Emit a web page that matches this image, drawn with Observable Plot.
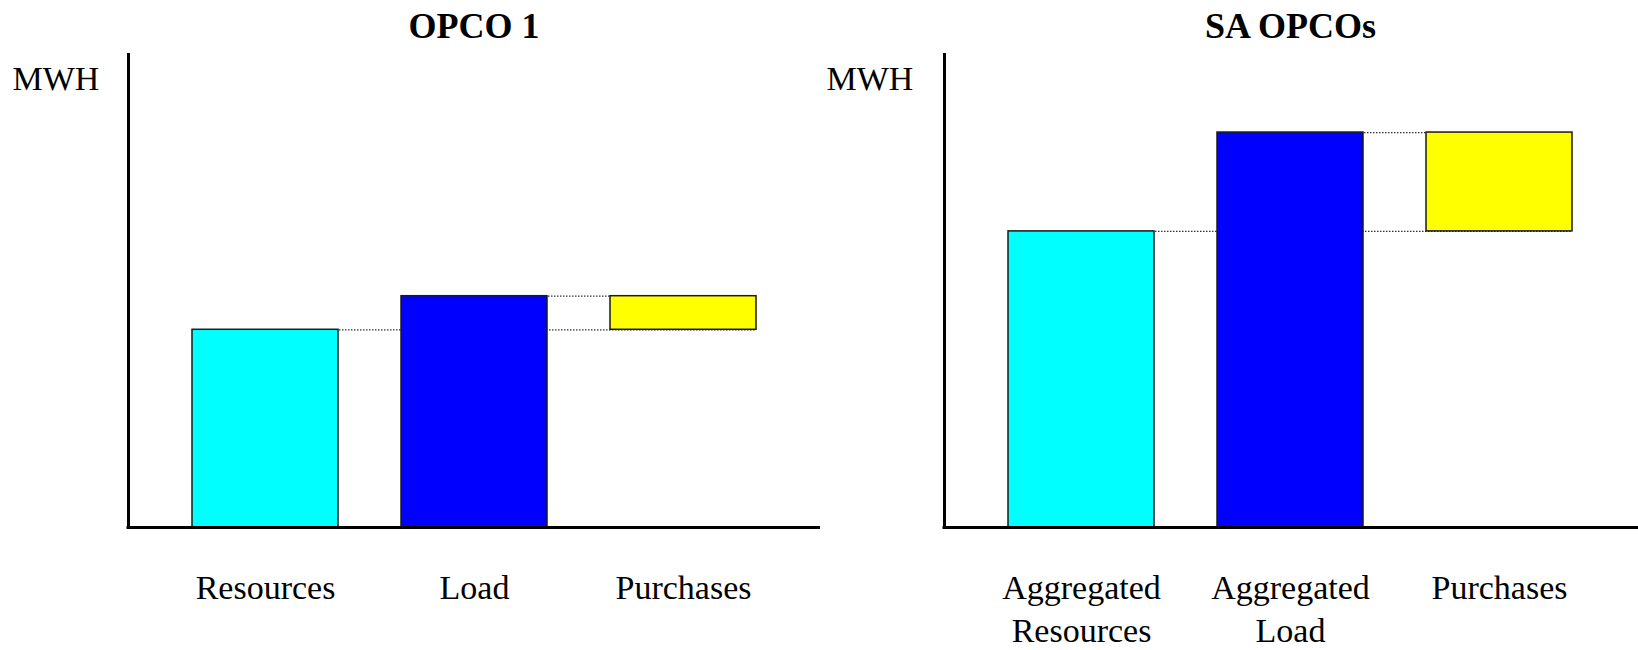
<!DOCTYPE html>
<html><head><meta charset="utf-8">
<script src="https://cdn.jsdelivr.net/npm/d3@7"></script>
<script src="https://cdn.jsdelivr.net/npm/@observablehq/plot@0.6"></script>
<style>
body{margin:0;background:#fff;}
#wrap{display:flex;width:1638px;height:650px;overflow:hidden;font-family:"Liberation Serif",serif;}
.panel{flex:none;}
.title{box-sizing:border-box;height:46px;padding-top:9px;font-size:36px;line-height:35px;font-weight:bold;text-align:center;white-space:nowrap;color:#000;}
</style></head><body><div id="wrap"></div>
<script>
// ---- data (arbitrary MWH units, axis top = 100) ----
const panelTitles = ["OPCO 1", "SA OPCOs"];
const opco1Categories = ["Resources", "Load", "Purchases"];
const opco1Values = [41.8, 48.9];          // resources, load
const saCategories = ["Aggregated\nResources", "Aggregated\nLoad", "Purchases"];
const saValues = [62.6, 83.5];             // aggregated resources, aggregated load
const yAxisLabel = "MWH";

// ---- styles ----
const fills = ["#00FFFF", "#0000FF", "#FFFF00"];

function rowsFor(cats, vals) {
  return [
    {cat: cats[0], y1: 0, y2: vals[0]},
    {cat: cats[1], y1: 0, y2: vals[1]},
    {cat: cats[2], y1: vals[0], y2: vals[1]}
  ];
}
function linksFor(cats, vals) {
  return [
    {y: vals[0], x1: cats[0], x2: cats[2]},
    {y: vals[1], x1: cats[1], x2: cats[2]}
  ];
}

function makePanel(title, cats, vals, width, marginLeft, marginRight, labelDx) {
  const div = document.createElement("div");
  div.className = "panel";
  div.style.width = width + "px";
  const t = document.createElement("div");
  t.className = "title";
  t.style.paddingLeft = marginLeft + "px";
  t.style.paddingRight = marginRight + "px";
  t.textContent = title;
  div.appendChild(t);
  const chart = Plot.plot({
    width, height: 604,
    marginLeft, marginRight, marginTop: 8, marginBottom: 123,
    style: {fontFamily: '"Liberation Serif", serif', fontSize: "34px", color: "#000", background: "#fff", overflow: "visible"},
    x: {domain: cats, padding: 0.3, label: null},
    y: {domain: [0, 100], axis: null},
    color: {domain: cats, range: fills},
    marks: [
      Plot.ruleY(linksFor(cats, vals), {y: "y", x1: "x1", x2: "x2", stroke: "#333", strokeDasharray: "1.5,1.5", strokeWidth: 1.2}),
      Plot.barY(rowsFor(cats, vals), {x: "cat", y1: "y1", y2: "y2", fill: "cat", stroke: "#1a1a1a", strokeWidth: 1.5}),
      Plot.frame({anchor: "left", stroke: "#000", strokeWidth: 3}),
      Plot.ruleY([0], {stroke: "#000", strokeWidth: 3, strokeLinecap: "square"}),
      Plot.axisX({tickSize: 0, tickPadding: 42, lineHeight: 1.24, label: null}),
      Plot.text([yAxisLabel], {text: d => d, frameAnchor: "top-left", textAnchor: "start", lineAnchor: "bottom", dx: labelDx, dy: 35, fill: "#000"})
    ]
  });
  div.appendChild(chart);
  return div;
}

const wrap = document.getElementById("wrap");
wrap.appendChild(makePanel(panelTitles[0], opco1Categories, opco1Values, 820, 128, 0, -116));
wrap.appendChild(makePanel(panelTitles[1], saCategories, saValues, 818, 124, 1, -118));
</script>
</body></html>
